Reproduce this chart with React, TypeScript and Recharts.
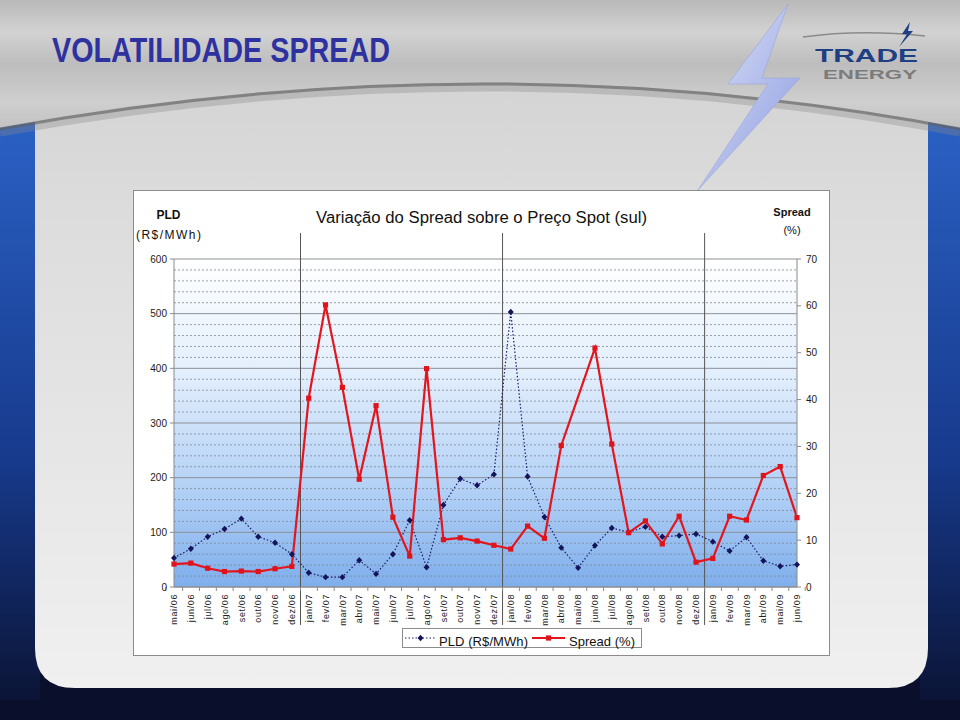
import React from 'react';
import {
  CartesianGrid,
  ComposedChart,
  Line,
  ReferenceLine,
  XAxis,
  YAxis,
} from 'recharts';

const months = [
  'mai/06', 'jun/06', 'jul/06', 'ago/06', 'set/06', 'out/06', 'nov/06', 'dez/06',
  'jan/07', 'fev/07', 'mar/07', 'abr/07', 'mai/07', 'jun/07', 'jul/07', 'ago/07',
  'set/07', 'out/07', 'nov/07', 'dez/07',
  'jan/08', 'fev/08', 'mar/08', 'abr/08', 'mai/08', 'jun/08', 'jul/08', 'ago/08',
  'set/08', 'out/08', 'nov/08', 'dez/08',
  'jan/09', 'fev/09', 'mar/09', 'abr/09', 'mai/09', 'jun/09',
];

// PLD (R$/MWh) - eixo esquerdo
const pld = [
  53, 70, 92, 106, 125, 92, 81, 60,
  26, 18, 18, 49, 24, 60, 122, 36, 150, 198, 186, 206,
  503, 202, 128, 72, 35, 76, 108, 100, 110, 92, 94, 97,
  83, 66, 91, 48, 38, 41,
];

// Spread (%) - eixo direito (mai/08 sem valor)
const spread: (number | null)[] = [
  4.9, 5.1, 4.0, 3.3, 3.4, 3.3, 3.9, 4.4,
  40.3, 60.2, 42.6, 23.0, 38.7, 14.9, 6.6, 46.6, 10.1, 10.5, 9.8, 8.9,
  8.1, 13.0, 10.4, 30.2, null, 51.0, 30.5, 11.6, 14.1, 9.2, 15.1, 5.3,
  6.1, 15.1, 14.3, 23.8, 25.7, 14.8,
];

const leftTicks = [0, 100, 200, 300, 400, 500, 600];
const rightTicks = [0, 10, 20, 30, 40, 50, 60, 70];
const minorLines = [20, 40, 60, 80, 120, 140, 160, 180, 220, 240, 260, 280, 320, 340, 360, 380, 420, 440, 460, 480, 520, 540, 560, 580];
const yearStarts = ['jan/07', 'jan/08', 'jan/09'];

const data = months.map((m, i) => ({ month: m, pld: pld[i], spread: spread[i] }));

const FONT = '"Liberation Sans", Arial, sans-serif';
const CHART_W = 695;
const CHART_H = 464;
const LEFT_W = 40;
const RIGHT_W = 32;
const BAND = (CHART_W - LEFT_W - RIGHT_W) / months.length;

const Diamond = (p: any) => {
  const { cx, cy, index } = p;
  if (cx == null || cy == null) return <g key={`d${index}`} />;
  return (
    <path
      key={`d${index}`}
      d={`M${cx},${cy - 3.2}L${cx + 3},${cy}L${cx},${cy + 3.2}L${cx - 3},${cy}Z`}
      fill="#14145a"
    />
  );
};

const Square = (p: any) => {
  const { cx, cy, index } = p;
  if (cx == null || cy == null) return <g key={`s${index}`} />;
  return <rect key={`s${index}`} x={cx - 2.6} y={cy - 2.6} width={5.2} height={5.2} fill="#e0131b" />;
};

const MonthTick = (p: any) => {
  const { x, y, payload, index } = p;
  return (
    <g>
      <line x1={x - BAND / 2} y1={y} x2={x - BAND / 2} y2={y + 4} stroke="#8a8a8a" />
      {index === months.length - 1 && (
        <line x1={x + BAND / 2} y1={y} x2={x + BAND / 2} y2={y + 4} stroke="#8a8a8a" />
      )}
      <text
        transform={`translate(${x},${y + 7}) rotate(-90)`}
        textAnchor="end"
        dy="0.35em"
        fontSize={9}
        letterSpacing={0.6}
        fill="#222"
        fontFamily={FONT}
      >
        {payload.value}
      </text>
    </g>
  );
};

function Backdrop() {
  return (
    <svg width={960} height={720} style={{ position: 'absolute', left: 0, top: 0 }}>
      <defs>
        <linearGradient id="silver" x1="0" y1="0" x2="0" y2="1">
          <stop offset="0%" stopColor="#b9b9b9" />
          <stop offset="25%" stopColor="#d2d2d2" />
          <stop offset="50%" stopColor="#bdbdbd" />
          <stop offset="80%" stopColor="#cfcfcf" />
          <stop offset="100%" stopColor="#c2c2c2" />
        </linearGradient>
        <linearGradient id="panel" x1="0" y1="0" x2="0" y2="1">
          <stop offset="0%" stopColor="#cfcfcf" />
          <stop offset="30%" stopColor="#dcdcdc" />
          <stop offset="100%" stopColor="#f0f0f0" />
        </linearGradient>
        <linearGradient id="blueL" x1="0" y1="0" x2="0" y2="1">
          <stop offset="0%" stopColor="#2c63c8" />
          <stop offset="60%" stopColor="#173a8c" />
          <stop offset="100%" stopColor="#0b1436" />
        </linearGradient>
        <linearGradient id="bolt" x1="0" y1="0" x2="1" y2="1">
          <stop offset="0%" stopColor="#dfe4f8" />
          <stop offset="100%" stopColor="#8b9be0" />
        </linearGradient>
      </defs>
      <rect x={0} y={0} width={960} height={720} fill="#0a0f2c" />
      <rect x={0} y={100} width={40} height={600} fill="url(#blueL)" />
      <rect x={920} y={100} width={40} height={600} fill="url(#blueL)" />
      <path d="M35,0 H928 V648 Q928,688 888,688 H75 Q35,688 35,648 Z" fill="url(#panel)" />
      <path d="M0,0 H960 V128 Q490,38 0,128 Z" fill="url(#silver)" />
      <path d="M0,132 Q490,42 960,132" fill="none" stroke="#8a8a8a" strokeWidth={9} opacity={0.35} />
      <path d="M0,129 Q490,39 960,129" fill="none" stroke="#5e5e5e" strokeWidth={3} opacity={0.6} />
      <polygon points="788,4 728,84 768,84 698,190 800,78 762,78" fill="url(#bolt)" stroke="#9aa6d8" strokeWidth={0.6} />
      <path d="M803,37 Q860,29 925,36" fill="none" stroke="#8a8a8a" strokeWidth={1.5} />
      <polygon points="910,22 902,34 907,34 899,47 913,31 908,31" fill="#1e3f82" />
    </svg>
  );
}

function Overlay() {
  return (
    <svg
      width={960}
      height={720}
      style={{ position: 'absolute', left: 0, top: 0, pointerEvents: 'none' }}
      fontFamily={FONT}
    >
      <text x={52} y={62} fontSize={35} fontWeight="bold" fill="#2e32a0" textLength={338} lengthAdjust="spacingAndGlyphs">
        VOLATILIDADE SPREAD
      </text>
      <text x={815} y={62} fontSize={19} fontWeight="bold" fill="#1e3f82" textLength={103} lengthAdjust="spacingAndGlyphs">
        TRADE
      </text>
      <text x={823} y={79} fontSize={13} fontWeight="bold" fill="#7b7b7b" textLength={94} lengthAdjust="spacingAndGlyphs">
        ENERGY
      </text>

      <text x={316} y={222.5} fontSize={16} fill="#111" textLength={331} lengthAdjust="spacingAndGlyphs">
        Variação do Spread sobre o Preço Spot (sul)
      </text>
      <text x={168.5} y={219} fontSize={12} fontWeight="bold" fill="#111" textAnchor="middle">
        PLD
      </text>
      <text x={136} y={238.5} fontSize={12} fill="#111" textLength={65} lengthAdjust="spacing">
        (R$/MWh)
      </text>
      <text x={792} y={215.5} fontSize={11} fontWeight="bold" fill="#111" textAnchor="middle">
        Spread
      </text>
      <text x={792} y={233.5} fontSize={11} fill="#111" textAnchor="middle">
        (%)
      </text>

      <rect x={402.5} y={628.5} width={239} height={19} fill="#fff" stroke="#8c8c8c" />
      <line x1={405} y1={638} x2={436} y2={638} stroke="#1c1c70" strokeWidth={1.2} strokeDasharray="1.5 2" />
      <path d="M420.5,634.8L423.5,638L420.5,641.2L417.5,638Z" fill="#14145a" />
      <text x={439} y={645.5} fontSize={13} fill="#111" textLength={89} lengthAdjust="spacing">
        PLD (R$/MWh)
      </text>
      <line x1={532} y1={638} x2={565} y2={638} stroke="#e3151d" strokeWidth={2.2} />
      <rect x={545.9} y={635.4} width={5.2} height={5.2} fill="#e0131b" />
      <text x={569} y={645.5} fontSize={13} fill="#111" textLength={66} lengthAdjust="spacing">
        Spread (%)
      </text>
    </svg>
  );
}

export default function App() {
  return (
    <div style={{ position: 'absolute', left: 0, top: 0, width: 960, height: 720, overflow: 'hidden' }}>
      <Backdrop />
      <div
        style={{
          position: 'absolute',
          left: 133,
          top: 190,
          width: 697,
          height: 466,
          boxSizing: 'border-box',
          border: '1px solid #8c8c8c',
          background: '#fff',
        }}
      >
        <ComposedChart
          width={CHART_W}
          height={CHART_H}
          data={data}
          margin={{ top: 68, right: 0, bottom: 0, left: 0 }}
        >
          <defs>
            <linearGradient id="plotGrad" x1="0" y1="0" x2="0" y2="1">
              <stop offset="0%" stopColor="#ffffff" />
              <stop offset="35%" stopColor="#e2eefc" />
              <stop offset="70%" stopColor="#b3d1f6" />
              <stop offset="100%" stopColor="#7eaeec" />
            </linearGradient>
          </defs>
          <CartesianGrid yAxisId="left" vertical={false} stroke="#8c9199" fill="url(#plotGrad)" />
          {minorLines.map((v) => (
            <ReferenceLine key={v} yAxisId="left" y={v} stroke="#7f8a98" strokeDasharray="2 2" strokeWidth={0.8} />
          ))}
          <XAxis
            dataKey="month"
            interval={0}
            height={68}
            tickSize={0}
            tickMargin={0}
            tickLine={false}
            axisLine={{ stroke: '#8a8a8a' }}
            tick={<MonthTick />}
          />
          <YAxis
            yAxisId="left"
            width={LEFT_W}
            domain={[0, 600]}
            ticks={leftTicks}
            interval={0}
            tickSize={4}
            tickMargin={3}
            axisLine={{ stroke: '#8a8a8a' }}
            tickLine={{ stroke: '#8a8a8a' }}
            tick={{ fontSize: 10, fill: '#1a1a1a', fontFamily: FONT }}
          />
          <YAxis
            yAxisId="right"
            orientation="right"
            width={RIGHT_W}
            domain={[0, 70]}
            ticks={rightTicks}
            interval={0}
            tickSize={4}
            tickMargin={5}
            axisLine={{ stroke: '#8a8a8a' }}
            tickLine={{ stroke: '#8a8a8a' }}
            tick={{ fontSize: 10, fill: '#1a1a1a', fontFamily: FONT }}
          />
          {yearStarts.map((m) => (
            <ReferenceLine
              key={m}
              yAxisId="left"
              x={m}
              ifOverflow="visible"
              shape={(p: any) => (
                <line
                  x1={p.x1 - BAND / 2}
                  x2={p.x2 - BAND / 2}
                  y1={Math.min(p.y1, p.y2) - 26}
                  y2={Math.max(p.y1, p.y2) + 38}
                  stroke="#555"
                  strokeWidth={1}
                />
              )}
            />
          ))}
          <Line
            yAxisId="left"
            type="linear"
            dataKey="pld"
            name="PLD (R$/MWh)"
            stroke="#1c1c70"
            strokeWidth={1.2}
            strokeDasharray="1.5 2"
            dot={Diamond}
            activeDot={false}
            isAnimationActive={false}
          />
          <Line
            yAxisId="right"
            type="linear"
            dataKey="spread"
            name="Spread (%)"
            stroke="#e3151d"
            strokeWidth={2.2}
            connectNulls
            dot={Square}
            activeDot={false}
            isAnimationActive={false}
          />
        </ComposedChart>
      </div>
      <Overlay />
    </div>
  );
}
